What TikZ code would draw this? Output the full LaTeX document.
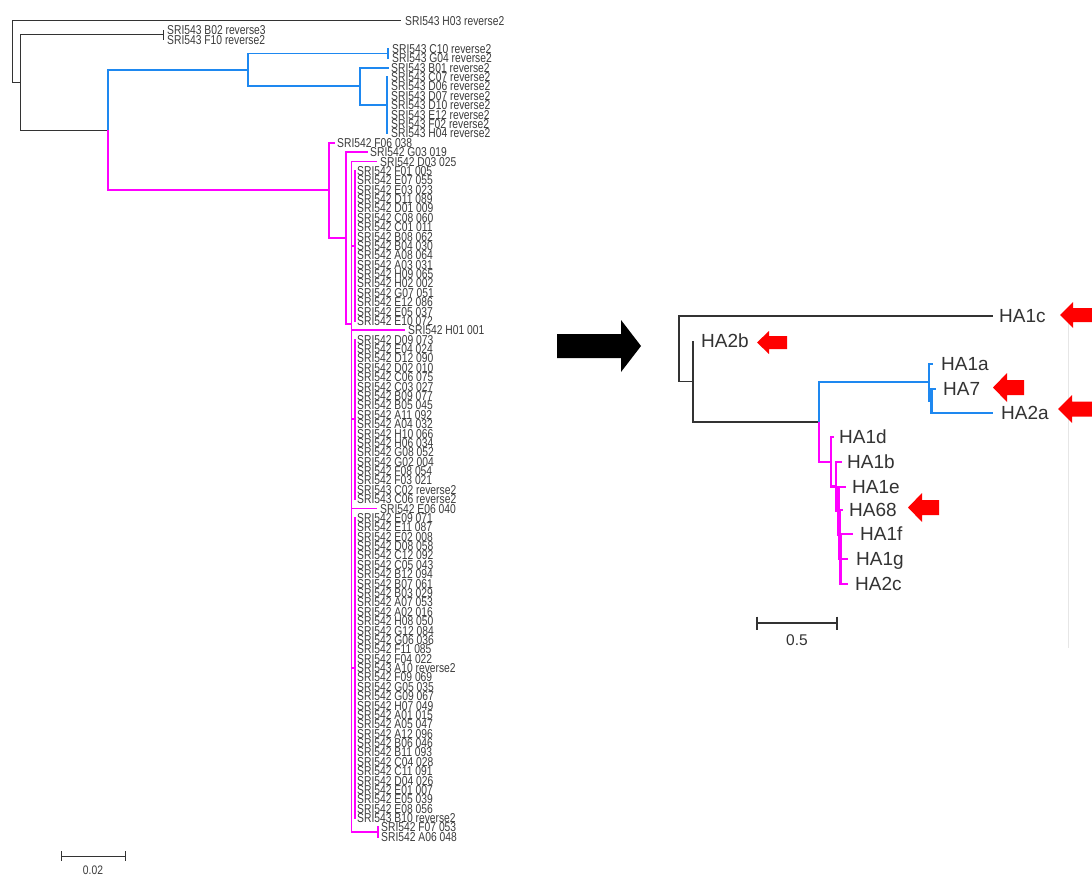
\documentclass[tikz,border=0pt]{standalone}
\usepackage{fontspec}
\usepackage{graphicx}
\setmainfont{Liberation Sans}
\definecolor{tgray}{HTML}{333333}
\definecolor{tblue}{HTML}{1E88F0}
\definecolor{tmag}{HTML}{FF00FF}
\definecolor{tred}{HTML}{FF0000}
\definecolor{ttext}{HTML}{3C3C3C}
\definecolor{tframe}{HTML}{E6E6E6}
\tikzset{
  gbr/.style={draw=tgray, line width=1pt},
  bbr/.style={draw=tblue, line width=1.8pt},
  mbr/.style={draw=tmag, line width=1.8pt},
  gbrr/.style={draw=tgray, line width=1.4pt},
  bbrr/.style={draw=tblue, line width=2.4pt},
  mbrr/.style={draw=tmag, line width=2.4pt},
  lab/.style={anchor=base west, inner sep=0pt, text=ttext, font=\fontsize{10.3}{12}\selectfont},
  rlab/.style={anchor=base west, inner sep=0pt, text=tgray, font=\fontsize{19}{22}\selectfont},
  sbar/.style={draw=tgray, line width=1.2pt},
}
% left-pointing block arrow: name, tip x, tip y, length, head half width, shaft half width, head length
\newcommand\blockarrowleft[7]{%
  \coordinate (#1) at (#2,#3);
  \fill[tred] (#1) -- ++(#7,-#5) -- ++(0,{#5-#6}) -- ++({#4-#7},0) -- ++(0,{2*#6})
     -- ++({#7-#4},0) -- ++(0,{#5-#6}) -- cycle;}
\begin{document}
\begin{tikzpicture}[x=1pt,y=-1pt]
\useasboundingbox (0,0) rectangle (1092,876);
\fill[white] (0,0) rectangle (1092,876);

% ================= LEFT TREE =================
\foreach \i/\x/\lx/\t in {
 0/401/405/SRI543 H03 reverse2,
 1/164/167/SRI543 B02 reverse3,
 2/164/167/SRI543 F10 reverse2,
 3/389/392/SRI543 C10 reverse2,
 4/389/392/SRI543 G04 reverse2,
 5/389/391/SRI543 B01 reverse2,
 6/388/391/SRI543 C07 reverse2,
 7/388/391/SRI543 D06 reverse2,
 8/388/391/SRI543 D07 reverse2,
 9/388/391/SRI543 D10 reverse2,
 10/388/391/SRI543 E12 reverse2,
 11/388/391/SRI543 F02 reverse2,
 12/388/391/SRI543 H04 reverse2,
 13/335/337/SRI542 F06 038,
 14/368/370/SRI542 G03 019,
 15/377/380/SRI542 D03 025,
 16/356/357/SRI542 F01 005,
 17/356/357/SRI542 E07 055,
 18/356/357/SRI542 E03 023,
 19/356/357/SRI542 D11 089,
 20/356/357/SRI542 D01 009,
 21/356/357/SRI542 C08 060,
 22/356/357/SRI542 C01 011,
 23/356/357/SRI542 B08 062,
 24/356/357/SRI542 B04 030,
 25/356/357/SRI542 A08 064,
 26/356/357/SRI542 A03 031,
 27/356/357/SRI542 H09 065,
 28/356/357/SRI542 H02 002,
 29/356/357/SRI542 G07 051,
 30/356/357/SRI542 E12 086,
 31/356/357/SRI542 E05 037,
 32/356/357/SRI542 E10 072,
 33/405/408/SRI542 H01 001,
 34/356/357/SRI542 D09 073,
 35/356/357/SRI542 E04 024,
 36/356/357/SRI542 D12 090,
 37/356/357/SRI542 D02 010,
 38/356/357/SRI542 C06 075,
 39/356/357/SRI542 C03 027,
 40/356/357/SRI542 B09 077,
 41/356/357/SRI542 B05 045,
 42/356/357/SRI542 A11 092,
 43/356/357/SRI542 A04 032,
 44/356/357/SRI542 H10 066,
 45/356/357/SRI542 H06 034,
 46/356/357/SRI542 G08 052,
 47/356/357/SRI542 G02 004,
 48/356/357/SRI542 F08 054,
 49/356/357/SRI542 F03 021,
 50/356/357/SRI543 C02 reverse2,
 51/356/357/SRI543 C06 reverse2,
 52/377/380/SRI542 E06 040,
 53/356/357/SRI542 E09 071,
 54/356/357/SRI542 E11 087,
 55/356/357/SRI542 E02 008,
 56/356/357/SRI542 D08 058,
 57/356/357/SRI542 C12 092,
 58/356/357/SRI542 C05 043,
 59/356/357/SRI542 B12 094,
 60/356/357/SRI542 B07 061,
 61/356/357/SRI542 B03 029,
 62/356/357/SRI542 A07 053,
 63/356/357/SRI542 A02 016,
 64/356/357/SRI542 H08 050,
 65/356/357/SRI542 G12 084,
 66/356/357/SRI542 G06 036,
 67/356/357/SRI542 F11 085,
 68/356/357/SRI542 F04 022,
 69/356/357/SRI543 A10 reverse2,
 70/356/357/SRI542 F09 069,
 71/356/357/SRI542 G05 035,
 72/356/357/SRI542 G09 067,
 73/356/357/SRI542 H07 049,
 74/356/357/SRI542 A01 015,
 75/356/357/SRI542 A05 047,
 76/356/357/SRI542 A12 096,
 77/356/357/SRI542 B06 046,
 78/356/357/SRI542 B11 093,
 79/356/357/SRI542 C04 028,
 80/356/357/SRI542 C11 091,
 81/356/357/SRI542 D04 026,
 82/356/357/SRI542 E01 007,
 83/356/357/SRI542 E05 039,
 84/356/357/SRI542 E08 056,
 85/356/357/SRI543 B10 reverse2,
 86/379/381/SRI542 F07 053,
 87/379/381/SRI542 A06 048}{
  \coordinate (l\i) at (\x,{20.7+9.38*\i});
  \node[lab] (t\i) at (\lx,{20.7+9.38*\i+4.6}) {\scalebox{1}[1.25]{\t}};
}

% internal nodes
\coordinate (L0) at (12,51.6);
\coordinate (L1) at (20.7,82.4);
\coordinate (L2) at (163,34.77);
\coordinate (L3) at (108,130.1);
\coordinate (LB) at (248,69.95);
\coordinate (LB1) at (388,53.53);
\coordinate (LB2) at (360,86.36);
\coordinate (LB3) at (387,105.12);
\coordinate (LM) at (329,190.3);
\coordinate (LM1) at (346,238.0);
\coordinate (LM2) at (351.5,324);
\coordinate (C1) at (355,245.8);
\coordinate (C2) at (355,419.35);
\coordinate (C3) at (355,667.9);
\coordinate (P) at (378,832.07);

\draw[gbr] (L0) |- (l0);
\draw[gbr] (L0) |- (L1);
\draw[gbr] (L1) |- (L2);
\draw[gbr] (L1) |- (L3);
\draw[gbr] (L2) |- (l1);
\draw[gbr] (L2) |- (l2);

\draw[bbr] (L3) |- (LB);
\draw[mbr] (L3) |- (LM);

\draw[bbr] (LB) |- (LB1);
\draw[bbr] (LB) |- (LB2);
\draw[bbr] (LB1) |- (l3);
\draw[bbr] (LB1) |- (l4);
\draw[bbr] (LB2) |- (l5);
\draw[bbr] (LB2) |- (LB3);
\foreach \i in {6,...,12}{\draw[bbr] (LB3) |- (l\i);}

\draw[mbr] (LM) |- (l13);
\draw[mbr] (LM) |- (LM1);
\draw[mbr] (LM1) |- (l14);
\draw[mbr] (LM1) |- (LM2);
\draw[mbr] (LM2) |- (l15);
\draw[mbr] (LM2) |- (C1);
\draw[mbr] (LM2) |- (l33);
\draw[mbr] (LM2) |- (C2);
\draw[mbr] (LM2) |- (l52);
\draw[mbr] (LM2) |- (C3);
\draw[mbr] (LM2) |- (P);
\foreach \i in {16,...,32}{\draw[mbr] (C1) |- (l\i);}
\foreach \i in {34,...,51}{\draw[mbr] (C2) |- (l\i);}
\foreach \i in {53,...,85}{\draw[mbr] (C3) |- (l\i);}
\draw[mbr] (P) |- (l86);
\draw[mbr] (P) |- (l87);

% left scale bar
\coordinate (sa1) at (61,856);
\coordinate (sa2) at (125,856);
\draw[sbar, line width=1pt] (sa1) -- (sa2);
\draw[sbar, line width=1pt] (61,851) -- (61,861);
\draw[sbar, line width=1pt] (125,851) -- (125,861);
\node[text=ttext, inner sep=0pt, font=\fontsize{10.3}{12}\selectfont] (sal) at (93,870.5) {\scalebox{1}[1.2]{0.02}};

% ================= BIG ARROW =================
\coordinate (bigtip) at (641,346);
\fill[black] (bigtip) -- (621,320) -- (621,334) -- (557,334) -- (557,358) -- (621,358) -- (621,372) -- cycle;

% ================= RIGHT TREE =================
\coordinate (R0) at (679,348.5);
\coordinate (N1) at (693,381.5);
\coordinate (N2) at (819,422);
\coordinate (B1) at (929,382);
\coordinate (B2) at (931.5,401);
\coordinate (M1) at (831,462);
\coordinate (M2) at (836,486.5);
\coordinate (M3) at (838.5,511);
\coordinate (M4) at (839.5,535);
\coordinate (M5) at (840.5,559);

\foreach \n/\x/\y in {HAoc/993/316, HAtb/693/341, HAoa/933/364, HAs/936/389,
  HAta/993/413, HAod/834/437, HAob/842/462, HAoe/846/487, HAse/843/510,
  HAof/853/534, HAog/848/559, HAtc/848/584}{
  \coordinate (r\n) at (\x,\y);
}
\node[rlab] (tHAoc) at (999,322.8) {HA1c};
\node[rlab] (tHAtb) at (701,347.8) {HA2b};
\node[rlab] (tHAoa) at (941,370.8) {HA1a};
\node[rlab] (tHAs) at (943,395.8) {HA7};
\node[rlab] (tHAta) at (1001,419.8) {HA2a};
\node[rlab] (tHAod) at (839,443.8) {HA1d};
\node[rlab] (tHAob) at (847,468.8) {HA1b};
\node[rlab] (tHAoe) at (852,493.8) {HA1e};
\node[rlab] (tHAse) at (849,516.8) {HA68};
\node[rlab] (tHAof) at (860,540.8) {HA1f};
\node[rlab] (tHAog) at (856,565.8) {HA1g};
\node[rlab] (tHAtc) at (855,590.8) {HA2c};

\draw[gbrr] (R0) |- (rHAoc);
\draw[gbrr] (R0) |- (N1);
\draw[gbrr] (N1) |- (rHAtb);
\draw[gbrr] (N1) |- (N2);
\draw[bbrr] (N2) |- (B1);
\draw[mbrr] (N2) |- (M1);
\draw[bbrr] (B1) |- (rHAoa);
\draw[bbrr] (B1) |- (B2);
\draw[bbrr] (B2) |- (rHAs);
\draw[bbrr] (B2) |- (rHAta);
\draw[mbrr] (M1) |- (rHAod);
\draw[mbrr] (M1) |- (M2);
\draw[mbrr] (M2) |- (rHAob);
\draw[mbrr] (M2) |- (M3);
\draw[mbrr] (M3) |- (rHAoe);
\draw[mbrr] (M3) |- (M4);
\draw[mbrr] (M4) |- (rHAse);
\draw[mbrr] (M4) |- (M5);
\draw[mbrr] (M5) |- (rHAof);
\draw[mbrr] (M5) |- (rHAog);
\draw[mbrr] (M5) |- (rHAtc);

% faint panel edge
\draw[tframe, line width=0.8pt] (1068,323) -- (1068,648);

% red arrows
\blockarrowleft{aHAoc}{1060}{315}{36}{13}{7}{13}
\blockarrowleft{aHAtb}{757}{342.5}{30}{11.5}{6.5}{12}
\blockarrowleft{aHAs}{993}{387.5}{31}{14.5}{7.5}{14}
\blockarrowleft{aHAta}{1058}{409}{36}{14}{7.5}{14}
\blockarrowleft{aHAse}{908}{507.5}{31}{14.5}{7.5}{14}

% right scale bar
\coordinate (sb1) at (757,623);
\coordinate (sb2) at (837,623);
\draw[sbar] (sb1) -- (sb2);
\draw[sbar] (757,616.5) -- (757,630);
\draw[sbar] (837,616.5) -- (837,630);
\node[text=tgray, inner sep=0pt, font=\fontsize{15.5}{18}\selectfont] (sbl) at (797,640) {0.5};

\end{tikzpicture}
\end{document}
